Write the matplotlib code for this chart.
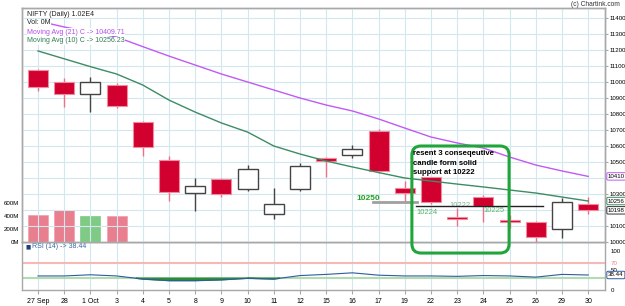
import matplotlib
matplotlib.use("Agg")
import matplotlib.pyplot as plt
from matplotlib.patches import Rectangle, FancyBboxPatch
import numpy as np

plt.rcParams['font.family'] = ['Liberation Sans', 'DejaVu Sans']

# data
days = ['27 Sep', '28', '1 Oct', '3', '4', '5', '8', '9', '10', '11', '12',
        '15', '16', '17', '19', '22', '23', '24', '25', '26', '29', '30']
opens = [11075, 11002, 10925, 10981, 10752, 10512, 10308, 10392, 10331, 10173, 10331,
         10527, 10544, 10694, 10340, 10404, 10158, 10279, 10137, 10127, 10079, 10237]
highs = [11081, 11027, 11033, 10992, 10755, 10537, 10402, 10402, 10481, 10340, 10492,
         10530, 10606, 10706, 10383, 10406, 10210, 10294, 10169, 10131, 10273, 10279]
lows = [10946, 10846, 10815, 10840, 10540, 10258, 10196, 10279, 10319, 10142, 10320,
        10408, 10523, 10429, 10248, 10237, 10102, 10127, 10086, 10002, 10023, 10175]
closes = [10971, 10925, 11002, 10852, 10596, 10314, 10350, 10298, 10458, 10235, 10475,
          10508, 10581, 10446, 10304, 10248, 10146, 10227, 10127, 10033, 10252, 10198]
ma21 = [11381, 11344, 11312, 11281, 11221, 11162, 11106, 11050, 11000, 10950, 10900,
        10856, 10819, 10769, 10712, 10656, 10619, 10587, 10531, 10481, 10444, 10410]
ma10 = [11194, 11145, 11096, 11050, 10981, 10887, 10812, 10744, 10687, 10600, 10550,
        10506, 10469, 10434, 10400, 10381, 10362, 10344, 10325, 10306, 10281, 10256]
vol_days = [0, 1, 2, 3]
volumes = [415, 492, 400, 400]   # millions
vol_up = [False, False, True, False]
rsi = [36, 36, 39, 36, 28, 24, 24, 26, 30, 28, 37,
       40, 44, 38, 36, 36, 35, 37, 36, 33, 40, 38.44]

price_ticks = list(range(10000, 11401, 100))

W, H = 625, 306
fig = plt.figure(figsize=(W / 100, H / 100), dpi=100)
fig.patch.set_facecolor('white')

def frac(l, t, r, b):
    return [l / W, 1 - b / H, (r - l) / W, (b - t) / H]

ax_r = fig.add_axes(frac(22, 242, 605, 290))
ax = fig.add_axes(frac(22, 8, 605, 242))
ax.set_zorder(2)

grid_c = '#d3e7ee'
spine_c = '#a8a8a8'
lab_fs = 4.4
x = np.arange(len(days))

# volume on the left of the price panel (twin axes drawn under the candles)
axv = ax.twinx()
axv.set_zorder(1)
axv.patch.set_visible(True)
axv.patch.set_facecolor('white')
ax.patch.set_visible(False)
axv.set_ylim(0, 3600)
axv.yaxis.tick_left()
axv.set_yticks([0, 200, 400, 600])
axv.set_yticklabels(['0M', '200M', '400M', '600M'])
axv.tick_params(axis='y', labelsize=lab_fs, length=0, pad=2)
axv.set_xlim(-0.61, 21.64)
axv.set_xticks(x)
axv.tick_params(axis='x', labelbottom=False, length=0)
axv.bar(vol_days, volumes, width=0.76,
        color=['#7fcb86' if u else '#e97e8f' for u in vol_up],
        edgecolor=['#7fcb86' if u else '#f0a0ad' for u in vol_up], lw=0.5, zorder=2)
for s in axv.spines.values():
    s.set_color(spine_c)
    s.set_linewidth(1)

# price panel
for i in x:
    up = closes[i] >= opens[i]
    lo, hi = min(opens[i], closes[i]), max(opens[i], closes[i])
    if up:
        ax.vlines(i, lows[i], highs[i], color='#444444', lw=1, zorder=3)
        ax.add_patch(Rectangle((i - 0.38, lo), 0.76, hi - lo, facecolor='white',
                               edgecolor='#444444', lw=1, zorder=4))
    else:
        ax.vlines(i, lows[i], highs[i], color='#ee6f88', lw=1, zorder=3)
        ax.add_patch(Rectangle((i - 0.38, lo), 0.76, max(hi - lo, 4), facecolor='#d2002e',
                               edgecolor='#f08ca0', lw=0.8, zorder=4))

ax.plot(x, ma21, color='#c05af5', lw=1, zorder=5)
ax.plot(x, ma10, color='#3d8c62', lw=1, zorder=5)

ax.set_xlim(-0.61, 21.64)
ax.set_ylim(10000, 11462.5)
ax.set_xticks(x)
ax.set_yticks(price_ticks)
ax.grid(True, color=grid_c, lw=0.8, zorder=0)
ax.yaxis.tick_right()
ax.tick_params(axis='y', labelsize=lab_fs, length=2, color=spine_c, pad=1)
ax.tick_params(axis='x', labelbottom=False, length=0)
for s in ax.spines.values():
    s.set_color(spine_c)
    s.set_linewidth(1)

# legend texts
lt = dict(transform=ax.transAxes, fontsize=5, ha='left', va='center',
          bbox=dict(facecolor='white', edgecolor='none', pad=0.3), zorder=10)
ax.text(5 / 583, 1 - 6 / 234, 'NIFTY (Daily) 1.02E4', color='#222222', **lt)
ax.text(5 / 583, 1 - 15 / 234, 'Vol: 0M', color='#222222', **lt)
ax.text(5 / 583, 1 - 24 / 234, 'Moving Avg (21) C -> 10409.71', color='#b24ee8', **lt)
ax.text(5 / 583, 1 - 33 / 234, 'Moving Avg (10) C -> 10256.23', color='#2f7d52', **lt)
fig.text(620 / W, 1 - 4 / H, '(c) Chartink.com', fontsize=4.8, ha='right', va='center', color='#333333')

# last value boxes on the price axis
for val, txt, ec in [(ma21[-1], '10410', '#c05af5'), (ma10[-1], '10256', '#3d8c62'),
                     (closes[-1], '10198', '#333333')]:
    ax.annotate(txt, xy=(1, val), xycoords=('axes fraction', 'data'), xytext=(2.2, 0),
                textcoords='offset points', fontsize=lab_fs, ha='left', va='center',
                bbox=dict(boxstyle='round,pad=0.2', facecolor='white', edgecolor=ec, lw=0.7),
                annotation_clip=False, zorder=12)

# rsi panel
ax_r.plot(x, rsi, color='#2f5c9c', lw=0.8, zorder=4)
ax_r.axhline(70, color='#f7b8b8', lw=1.5, zorder=2)
ax_r.axhline(30, color='#b3dbb3', lw=1.5, zorder=2)
ax_r.fill_between(x, rsi, 30, where=np.array(rsi) < 30, interpolate=True,
                  color='#2e8b3e', zorder=3)
ax_r.set_xlim(-0.61, 21.64)
ax_r.set_ylim(0, 123)
ax_r.set_xticks(x)
ax_r.set_xticklabels(days)
ax_r.set_yticks([0, 50, 70, 100])
ax_r.yaxis.tick_right()
ax_r.tick_params(axis='y', labelsize=lab_fs, length=0, pad=4)
ax_r.tick_params(axis='x', labelsize=5, length=3, color=spine_c, pad=3)
ax_r.get_yticklabels()[2].set_color('#f08080')
ax_r.grid(True, axis='x', color=grid_c, lw=0.8)
ax_r.set_axisbelow(True)
for s in ax_r.spines.values():
    s.set_color(spine_c)
    s.set_linewidth(1)
ax_r.text(3 / 583, 1 - 5 / 48, '\u25a0', transform=ax_r.transAxes, fontsize=4,
          color='#1f3f7f', ha='left', va='center', family='DejaVu Sans')
ax_r.text(10 / 583, 1 - 5 / 48, 'RSI (14) -> 38.44', transform=ax_r.transAxes, fontsize=5,
          color='#3a64a8', ha='left', va='center')
ax_r.annotate('38.44', xy=(1, rsi[-1]), xycoords=('axes fraction', 'data'), xytext=(2.2, 0),
              textcoords='offset points', fontsize=lab_fs, ha='left', va='center',
              bbox=dict(boxstyle='round,pad=0.2', facecolor='white', edgecolor='#2f5c9c', lw=0.7),
              annotation_clip=False, zorder=12)

# hand-drawn notes
ax.add_patch(FancyBboxPatch((14.27, 9931), 3.71, 10600 - 9931,
                            boxstyle='round,pad=0,rounding_size=0.35', mutation_aspect=164,
                            facecolor='none', edgecolor='#1fa53a', lw=2.2, clip_on=False, zorder=20))
ax.plot([12.79, 14.47], [10248, 10248], color='#a0a0a0', lw=2, zorder=6)
ax.plot([14.43, 19.27], [10223, 10223], color='#222222', lw=1, zorder=6)
ax.text(12.6, 10269, '10250', color='#22a022', fontsize=6, fontweight='bold',
        ha='center', va='center', zorder=7)
ax.text(14.85, 10183, '10224', color='#55b86a', fontsize=5.5, ha='center', va='center', zorder=7)
ax.text(16.1, 10228, '10222', color='#7ab88a', fontsize=5.5, ha='center', va='center', zorder=5)
ax.text(17.4, 10200, '10225', color='#55b86a', fontsize=5.5, ha='center', va='center', zorder=7)
ax.text(14.31, 10572, 'resent 3 conseqeutive\ncandle form solid\nsupport at 10222',
        color='black', fontsize=5.6, fontweight='bold', ha='left', va='top',
        linespacing=1.45, zorder=21)

fig.savefig('out.png', dpi=100)
